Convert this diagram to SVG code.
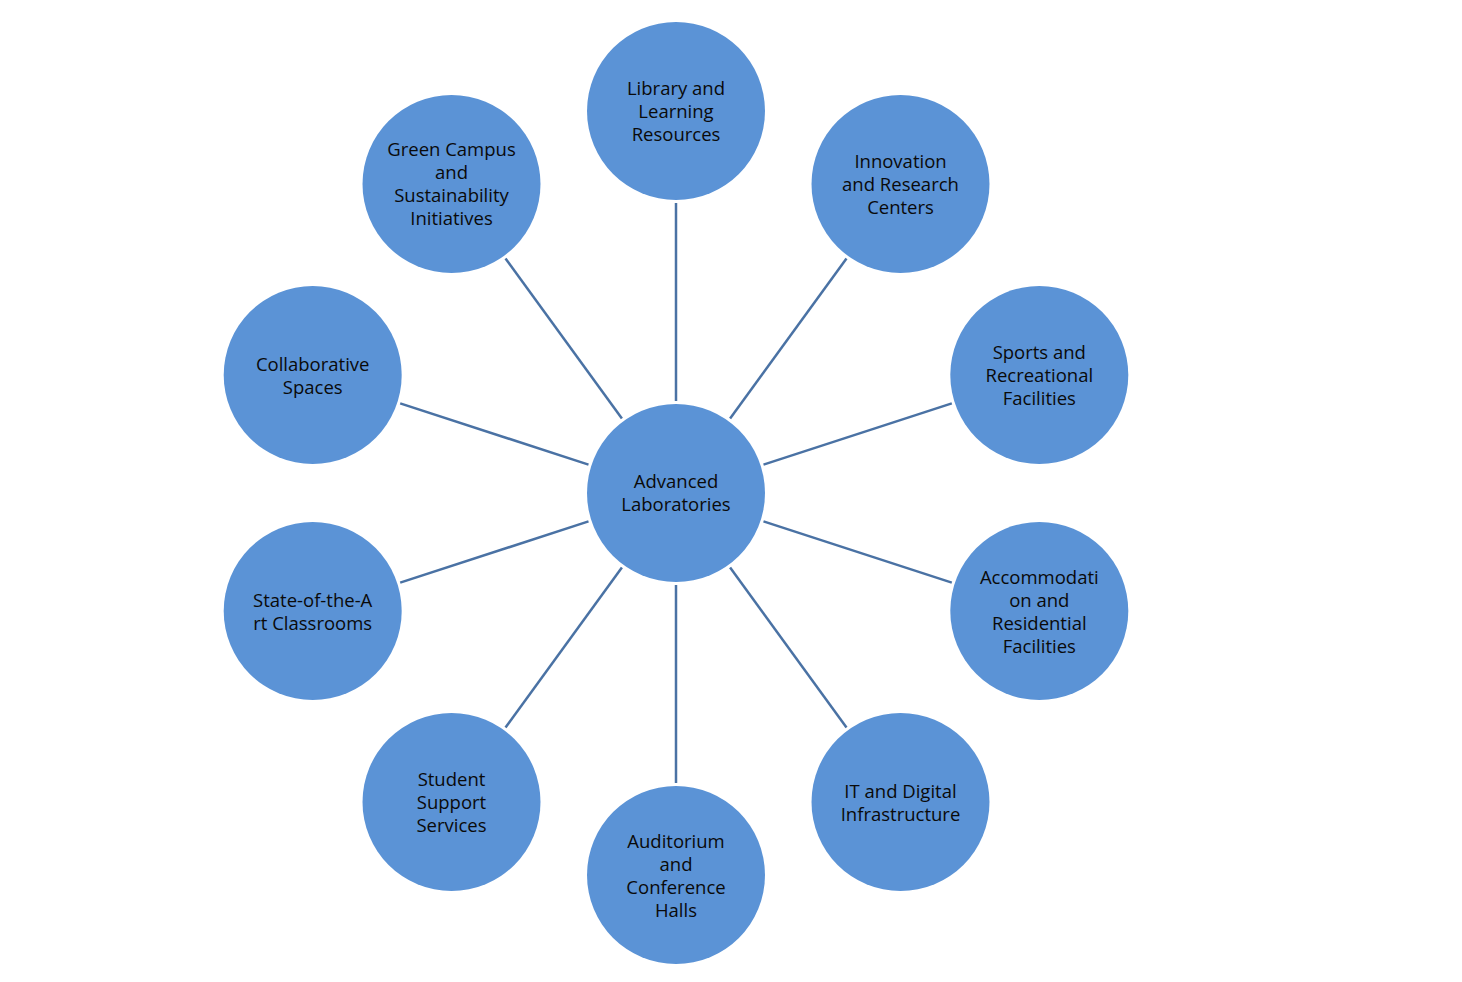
<svg xmlns="http://www.w3.org/2000/svg" width="1462" height="982" viewBox="0 0 1462 982">
<style>
.n{fill:#5b93d6;}
.t{font-family:"Open Sans","Liberation Sans",sans-serif;font-size:18.5px;fill:#0a0a0a;text-anchor:middle;}
.e{stroke:#4a72a4;stroke-width:2.5;fill:none;}
</style>
<rect width="1462" height="982" fill="#fff"/>
<g id="connectors">
<line class="e" x1="676" y1="401" x2="676" y2="203"/>
<line class="e" x1="730.1" y1="418.6" x2="846.5" y2="258.4"/>
<line class="e" x1="763.5" y1="464.6" x2="951.8" y2="403.4"/>
<line class="e" x1="763.5" y1="521.4" x2="951.8" y2="582.6"/>
<line class="e" x1="730.1" y1="567.4" x2="846.5" y2="727.6"/>
<line class="e" x1="676" y1="585" x2="676" y2="783"/>
<line class="e" x1="621.9" y1="567.4" x2="505.5" y2="727.6"/>
<line class="e" x1="588.5" y1="521.4" x2="400.2" y2="582.6"/>
<line class="e" x1="588.5" y1="464.6" x2="400.2" y2="403.4"/>
<line class="e" x1="621.9" y1="418.6" x2="505.5" y2="258.4"/>
</g>
<g id="center">
<circle class="n" cx="676" cy="493" r="89"/>
<text class="t" x="676" y="488">Advanced</text>
<text class="t" x="676" y="511">Laboratories</text>
</g>
<g id="library">
<circle class="n" cx="676" cy="111" r="89"/>
<text class="t" x="676" y="94.5">Library and</text>
<text class="t" x="676" y="117.5">Learning</text>
<text class="t" x="676" y="140.5">Resources</text>
</g>
<g id="innovation">
<circle class="n" cx="900.5" cy="184" r="89"/>
<text class="t" x="900.5" y="167.5">Innovation</text>
<text class="t" x="900.5" y="190.5">and Research</text>
<text class="t" x="900.5" y="213.5">Centers</text>
</g>
<g id="sports">
<circle class="n" cx="1039.3" cy="375" r="89"/>
<text class="t" x="1039.3" y="358.5">Sports and</text>
<text class="t" x="1039.3" y="381.5">Recreational</text>
<text class="t" x="1039.3" y="404.5">Facilities</text>
</g>
<g id="accommodation">
<circle class="n" cx="1039.3" cy="611" r="89"/>
<text class="t" x="1039.3" y="583.5">Accommodati</text>
<text class="t" x="1039.3" y="606.5">on and</text>
<text class="t" x="1039.3" y="629.5">Residential</text>
<text class="t" x="1039.3" y="652.5">Facilities</text>
</g>
<g id="it">
<circle class="n" cx="900.5" cy="802" r="89"/>
<text class="t" x="900.5" y="797.5">IT and Digital</text>
<text class="t" x="900.5" y="820.5">Infrastructure</text>
</g>
<g id="auditorium">
<circle class="n" cx="676" cy="875" r="89"/>
<text class="t" x="676" y="847.5">Auditorium</text>
<text class="t" x="676" y="870.5">and</text>
<text class="t" x="676" y="893.5">Conference</text>
<text class="t" x="676" y="916.5">Halls</text>
</g>
<g id="student">
<circle class="n" cx="451.5" cy="802" r="89"/>
<text class="t" x="451.5" y="785.5">Student</text>
<text class="t" x="451.5" y="808.5">Support</text>
<text class="t" x="451.5" y="831.5">Services</text>
</g>
<g id="classrooms">
<circle class="n" cx="312.7" cy="611" r="89"/>
<text class="t" x="312.7" y="606.5">State-of-the-A</text>
<text class="t" x="312.7" y="629.5">rt Classrooms</text>
</g>
<g id="collaborative">
<circle class="n" cx="312.7" cy="375" r="89"/>
<text class="t" x="312.7" y="370.5">Collaborative</text>
<text class="t" x="312.7" y="393.5">Spaces</text>
</g>
<g id="green">
<circle class="n" cx="451.5" cy="184" r="89"/>
<text class="t" x="451.5" y="155.5">Green Campus</text>
<text class="t" x="451.5" y="178.5">and</text>
<text class="t" x="451.5" y="201.5">Sustainability</text>
<text class="t" x="451.5" y="224.5">Initiatives</text>
</g>
</svg>
